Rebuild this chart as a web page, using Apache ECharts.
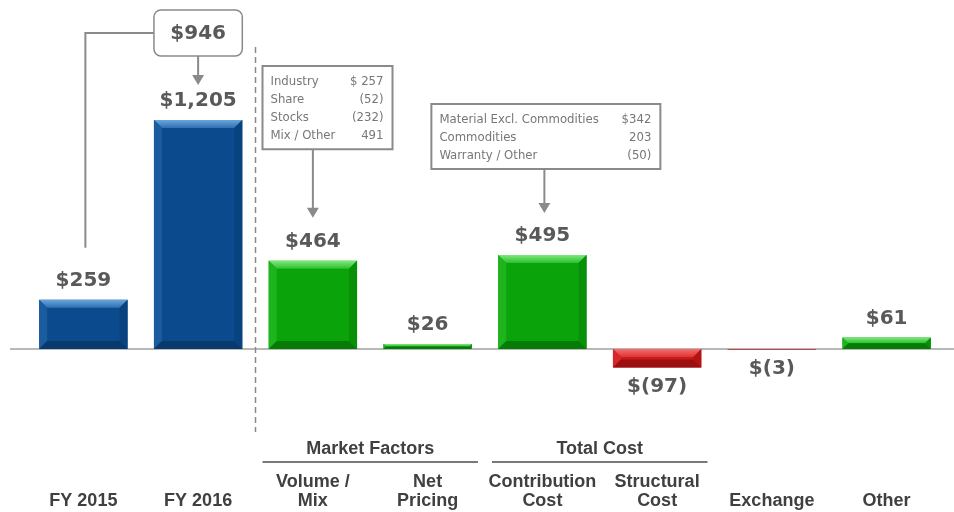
<!DOCTYPE html>
<html>
<head>
<meta charset="utf-8">
<script src="https://cdn.jsdelivr.net/npm/echarts@6/dist/echarts.min.js"></script>
<style>
  html, body { margin: 0; padding: 0; background: #fff; }
  #chart { width: 954px; height: 512px; }
</style>
</head>
<body>
<div id="chart"></div>
<script>
  // categories and bridge values
  const categories = ["FY 2015", "FY 2016", "Volume /\nMix", "Net\nPricing", "Contribution\nCost", "Structural\nCost", "Exchange", "Other"];
  const values = [259, 1205, 464, 26, 495, -97, -3, 61];
  const kinds = ["total", "total", "up", "up", "up", "down", "down", "up"];
  const bridgeChange = 946;

  // callout boxes
  const marketRows = [["Industry", "$ 257"], ["Share", "(52)"], ["Stocks", "(232)"], ["Mix / Other", "491"]];
  const costRows = [["Material Excl. Commodities", "$342"], ["Commodities", "203"], ["Warranty / Other", "(50)"]];
  const groups = [
    { name: "Market Factors", from: 2, to: 3 },
    { name: "Total Cost", from: 4, to: 5 },
  ];

  const palettes = {
    total: { top: ["#6aa6dc", "#2f6fb0"], main: "#0b4b8d", left: "#1a5c9e", right: "#09437f", bottom: "#083a6e" },
    up: { top: ["#7ee87e", "#2cc02c"], main: "#0aa30a", left: "#1db41d", right: "#089008", bottom: "#067c06" },
    down: { top: ["#f07070", "#e03434"], main: "#cc1a1a", left: "#d62828", right: "#b41414", bottom: "#9a1010" },
  };

  function fmt(v) {
    return v < 0 ? "$(" + (-v) + ")" : "$" + v.toLocaleString("en-US");
  }

  var myChart = echarts.init(document.getElementById("chart"));

  function renderBar(params, api) {
    const i = api.value(0);
    const v = api.value(1);
    const p0 = api.coord([i, 0]);
    const p1 = api.coord([i, v]);
    const w = api.size([1, 0])[0] * 0.77;
    const x = p0[0] - w / 2;
    const yTop = Math.min(p0[1], p1[1]);
    const yBot = Math.max(p0[1], p1[1]);
    const h = yBot - yTop;
    const b = Math.min(8, h / 2);
    const pal = palettes[kinds[i]];
    return {
      type: "group",
      children: [
        { type: "rect", shape: { x: x, y: yTop, width: w, height: h }, style: { fill: pal.main } },
        {
          type: "polygon",
          shape: { points: [[x, yTop], [x + w, yTop], [x + w - b, yTop + b], [x + b, yTop + b]] },
          style: {
            fill: new echarts.graphic.LinearGradient(0, 0, 0, 1, [
              { offset: 0, color: pal.top[0] },
              { offset: 1, color: pal.top[1] },
            ]),
          },
        },
        { type: "polygon", shape: { points: [[x, yTop], [x + b, yTop + b], [x + b, yBot - b], [x, yBot]] }, style: { fill: pal.left } },
        { type: "polygon", shape: { points: [[x + w, yTop], [x + w, yBot], [x + w - b, yBot - b], [x + w - b, yTop + b]] }, style: { fill: pal.right } },
        { type: "polygon", shape: { points: [[x, yBot], [x + b, yBot - b], [x + w - b, yBot - b], [x + w, yBot]] }, style: { fill: pal.bottom } },
        {
          type: "text",
          x: p0[0],
          y: v >= 0 ? yTop - 9 : yBot + 9,
          style: {
            text: fmt(v),
            fill: "#595959",
            font: 'bold 20px "DejaVu Sans"',
            align: "center",
            verticalAlign: v >= 0 ? "bottom" : "top",
          },
        },
      ],
    };
  }

  let options = {
    animation: false,
    grid: { left: 26, right: 10, top: 83, bottom: 125 },
    xAxis: {
      type: "category",
      data: categories,
      axisLine: { show: false, onZero: false },
      axisTick: { show: false },
      axisLabel: {
        interval: 0,
        margin: 124,
        verticalAlign: "bottom",
        color: "#404040",
        fontFamily: '"Liberation Sans", Arial',
        fontWeight: "bold",
        fontSize: 18,
        lineHeight: 19,
      },
    },
    yAxis: { type: "value", min: -200, max: 1400, show: false, splitLine: { show: false } },
    series: [
      {
        type: "custom",
        renderItem: renderBar,
        data: values.map((v, i) => [i, v]),
        encode: { x: 0, y: 1 },
      },
    ],
  };
  myChart.setOption(options);

  // annotations placed from the axes
  const px = (i, v) => myChart.convertToPixel({ xAxisIndex: 0, yAxisIndex: 0 }, [i, v]);
  const step = px(1, 0)[0] - px(0, 0)[0];
  const barW = step * 0.77;
  const zeroY = px(0, 0)[1];
  const cx = (i) => px(i, 0)[0];
  const topY = (i) => px(i, values[i])[1];
  const grey = "#8a8a8a";
  const g = [];

  function arrow(x, y1, y2) {
    g.push({ type: "line", shape: { x1: x, y1: y1, x2: x, y2: y2 - 9 }, style: { stroke: grey, lineWidth: 2 } });
    g.push({ type: "polygon", shape: { points: [[x - 6, y2 - 10], [x + 6, y2 - 10], [x, y2]] }, style: { fill: grey } });
  }

  // baseline
  g.push({ type: "line", z: -1, shape: { x1: 10, y1: zeroY, x2: 954, y2: zeroY }, style: { stroke: "#a0a0a0", lineWidth: 1.5 } });

  // dashed separator
  const sepX = cx(1) + step / 2;
  g.push({ type: "line", shape: { x1: sepX, y1: 47, x2: sepX, y2: 432 }, style: { stroke: grey, lineWidth: 1.5, lineDash: [6, 4] } });

  // $946 callout
  const boxL = cx(1) - barW / 2;
  g.push({ type: "rect", shape: { x: boxL, y: 10, width: barW, height: 46, r: 7 }, style: { fill: "#fff", stroke: grey, lineWidth: 1.5 } });
  g.push({ type: "text", x: cx(1), y: 34, style: { text: fmt(bridgeChange), fill: "#595959", font: 'bold 20px "DejaVu Sans"', align: "center", verticalAlign: "middle" } });
  g.push({ type: "polyline", shape: { points: [[boxL, 33], [cx(0) + 2, 33], [cx(0) + 2, topY(0) - 52]] }, style: { stroke: grey, lineWidth: 2, fill: null } });
  arrow(cx(1), 56, topY(1) - 35);

  // breakdown boxes
  function breakdown(rows, left, top, width, arrowX, arrowEnd) {
    const lh = 18.3;
    const height = rows.length * lh + 10;
    g.push({ type: "rect", shape: { x: left, y: top, width: width, height: height }, style: { fill: "#fff", stroke: grey, lineWidth: 2 } });
    rows.forEach((r, k) => {
      const y = top + 5 + lh * (k + 0.5) + 1;
      const font = '13px "Liberation Sans Narrow", "DejaVu Sans Condensed", sans-serif';
      g.push({ type: "text", x: left + 8, y: y, style: { text: r[0], fill: "#777", font: font, align: "left", verticalAlign: "middle" } });
      g.push({ type: "text", x: left + width - 9, y: y, style: { text: r[1], fill: "#777", font: font, align: "right", verticalAlign: "middle" } });
    });
    arrow(arrowX, top + height, arrowEnd);
  }
  breakdown(marketRows, cx(2) - step / 2 + 7, 66, 130, cx(2), topY(2) - 43);
  breakdown(costRows, cx(4) - 111, 104, 229, cx(4) + 2, topY(4) - 42);

  // group headers
  groups.forEach((gr) => {
    const l = cx(gr.from) - step / 2 + 7;
    const r = cx(gr.to) + step / 2 - 7;
    g.push({ type: "line", shape: { x1: l, y1: 462, x2: r, y2: 462 }, style: { stroke: "#7a7a7a", lineWidth: 2 } });
    g.push({ type: "text", x: (l + r) / 2, y: 449, style: { text: gr.name, fill: "#404040", font: 'bold 18px "Liberation Sans", Arial', align: "center", verticalAlign: "middle" } });
  });

  myChart.setOption({ graphic: g });

  window.addEventListener("resize", function() {
    myChart.resize();
  });
</script>
</body>
</html>
